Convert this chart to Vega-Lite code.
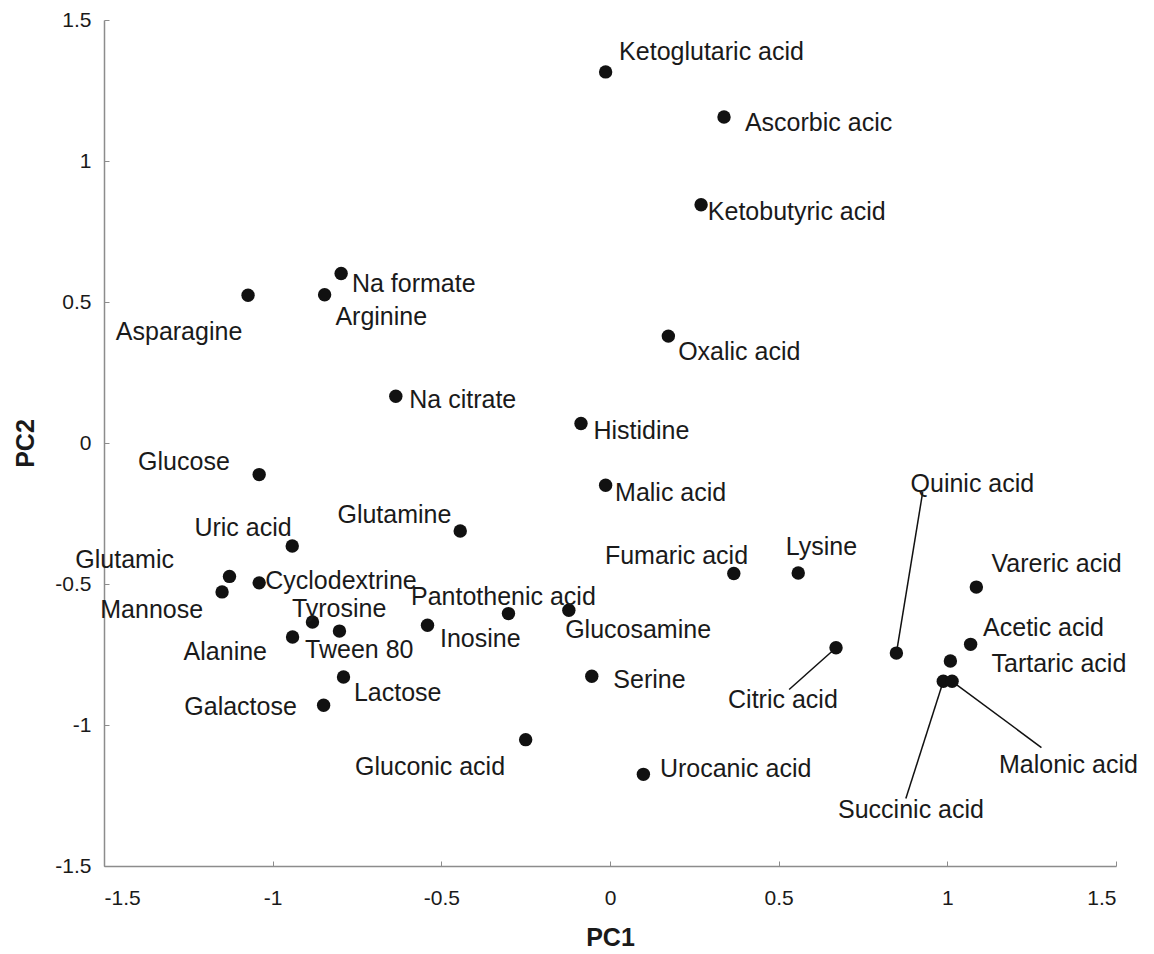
{
  "$schema": "https://vega.github.io/schema/vega-lite/v6.json",
  "width": 1012,
  "height": 846,
  "autosize": {"type": "none"},
  "padding": {"left": 104, "top": 20, "right": 38, "bottom": 88},
  "background": "white",
  "config": {
    "view": {"stroke": null},
    "font": "Liberation Sans",
    "axis": {
      "grid": false,
      "domainColor": "#8c8c8c",
      "domainWidth": 1.5,
      "tickColor": "#8c8c8c",
      "tickSize": -5,
      "labelFont": "Liberation Sans",
      "labelFontSize": 21,
      "labelColor": "#1a1a1a",
      "titleFont": "Liberation Sans",
      "titleFontSize": 25,
      "titleFontWeight": "bold",
      "titleColor": "#1a1a1a"
    }
  },
  "datasets": {
    "pts": [
      {"name": "Ketoglutaric acid", "pc1": -0.013, "pc2": 1.316, "lx": 0.027, "ly": 1.385},
      {"name": "Ascorbic acic", "pc1": 0.338, "pc2": 1.156, "lx": 0.400, "ly": 1.134},
      {"name": "Ketobutyric acid", "pc1": 0.270, "pc2": 0.845, "lx": 0.290, "ly": 0.818},
      {"name": "Na formate", "pc1": -0.797, "pc2": 0.601, "lx": -0.765, "ly": 0.565},
      {"name": "Arginine", "pc1": -0.846, "pc2": 0.526, "lx": -0.814, "ly": 0.447},
      {"name": "Asparagine", "pc1": -1.073, "pc2": 0.524, "lx": -1.465, "ly": 0.394},
      {"name": "Oxalic acid", "pc1": 0.173, "pc2": 0.379, "lx": 0.202, "ly": 0.323},
      {"name": "Na citrate", "pc1": -0.635, "pc2": 0.166, "lx": -0.595, "ly": 0.151},
      {"name": "Histidine", "pc1": -0.086, "pc2": 0.069, "lx": -0.049, "ly": 0.043},
      {"name": "Glucose", "pc1": -1.040, "pc2": -0.112, "lx": -1.399, "ly": -0.067},
      {"name": "Malic acid", "pc1": -0.013, "pc2": -0.150, "lx": 0.015, "ly": -0.179},
      {"name": "Uric acid", "pc1": -0.942, "pc2": -0.365, "lx": -1.232, "ly": -0.300},
      {"name": "Glutamine", "pc1": -0.444, "pc2": -0.312, "lx": -0.808, "ly": -0.254},
      {"name": "Glutamic", "pc1": -1.128, "pc2": -0.473, "lx": -1.585, "ly": -0.416},
      {"name": "Mannose", "pc1": -1.150, "pc2": -0.528, "lx": -1.511, "ly": -0.591},
      {"name": "Cyclodextrine", "pc1": -1.040, "pc2": -0.496, "lx": -1.022, "ly": -0.490},
      {"name": "Tyrosine", "pc1": -0.882, "pc2": -0.635, "lx": -0.943, "ly": -0.587},
      {"name": "Tween 80", "pc1": -0.802, "pc2": -0.667, "lx": -0.904, "ly": -0.735},
      {"name": "Alanine", "pc1": -0.941, "pc2": -0.688, "lx": -1.264, "ly": -0.741},
      {"name": "Inosine", "pc1": -0.541, "pc2": -0.646, "lx": -0.504, "ly": -0.694},
      {"name": "Pantothenic acid", "pc1": -0.301, "pc2": -0.605, "lx": -0.590, "ly": -0.546},
      {"name": "Glucosamine", "pc1": -0.122, "pc2": -0.593, "lx": -0.133, "ly": -0.662},
      {"name": "Fumaric acid", "pc1": 0.367, "pc2": -0.463, "lx": -0.015, "ly": -0.402},
      {"name": "Lysine", "pc1": 0.558, "pc2": -0.461, "lx": 0.521, "ly": -0.369},
      {"name": "Lactose", "pc1": -0.790, "pc2": -0.830, "lx": -0.759, "ly": -0.887},
      {"name": "Galactose", "pc1": -0.849, "pc2": -0.930, "lx": -1.262, "ly": -0.936},
      {"name": "Serine", "pc1": -0.054, "pc2": -0.827, "lx": 0.010, "ly": -0.839},
      {"name": "Gluconic acid", "pc1": -0.250, "pc2": -1.052, "lx": -0.756, "ly": -1.149},
      {"name": "Urocanic acid", "pc1": 0.099, "pc2": -1.175, "lx": 0.148, "ly": -1.155},
      {"name": "Citric acid", "pc1": 0.670, "pc2": -0.726, "lx": 0.350, "ly": -0.910},
      {"name": "Quinic acid", "pc1": 0.849, "pc2": -0.745, "lx": 0.891, "ly": -0.146},
      {"name": "Vareric acid", "pc1": 1.086, "pc2": -0.511, "lx": 1.131, "ly": -0.430},
      {"name": "Acetic acid", "pc1": 1.069, "pc2": -0.714, "lx": 1.106, "ly": -0.656},
      {"name": "Tartaric acid", "pc1": 1.009, "pc2": -0.773, "lx": 1.131, "ly": -0.785},
      {"name": "Succinic acid", "pc1": 0.988, "pc2": -0.845, "lx": 0.676, "ly": -1.302},
      {"name": "Malonic acid", "pc1": 1.014, "pc2": -0.845, "lx": 1.153, "ly": -1.143}
    ],
    "leaders": [
      {"name": "Quinic acid", "x1": 0.849, "y1": -0.745, "x2": 0.927, "y2": -0.174},
      {"name": "Citric acid", "x1": 0.670, "y1": -0.726, "x2": 0.531, "y2": -0.874},
      {"name": "Succinic acid", "x1": 0.988, "y1": -0.845, "x2": 0.877, "y2": -1.261},
      {"name": "Malonic acid", "x1": 1.014, "y1": -0.845, "x2": 1.279, "y2": -1.080}
    ]
  },
  "layer": [
    {
      "data": {"name": "leaders"},
      "mark": {"type": "rule", "color": "#111111", "strokeWidth": 1.5},
      "encoding": {
        "x": {"field": "x1", "type": "quantitative", "scale": {"domain": [-1.5, 1.5], "nice": false, "zero": false}},
        "y": {"field": "y1", "type": "quantitative", "scale": {"domain": [-1.5, 1.5], "nice": false, "zero": false}},
        "x2": {"field": "x2"},
        "y2": {"field": "y2"}
      }
    },
    {
      "data": {"name": "pts"},
      "mark": {"type": "circle", "size": 180, "color": "#111111", "opacity": 1},
      "encoding": {
        "x": {"field": "pc1", "type": "quantitative", "title": "PC1",
              "scale": {"domain": [-1.5, 1.5], "nice": false, "zero": false},
              "axis": {"values": [-1.5, -1, -0.5, 0, 0.5, 1, 1.5], "labelExpr": "'' + datum.value", "labelPadding": 26, "titlePadding": 17}},
        "y": {"field": "pc2", "type": "quantitative", "title": "PC2",
              "scale": {"domain": [-1.5, 1.5], "nice": false, "zero": false},
              "axis": {"values": [-1.5, -1, -0.5, 0, 0.5, 1, 1.5], "labelExpr": "'' + datum.value", "labelPadding": 18, "titlePadding": 16}}
      }
    },
    {
      "data": {"name": "pts"},
      "mark": {"type": "text", "align": "left", "baseline": "middle", "fontSize": 25, "font": "Liberation Sans", "color": "#1a1a1a"},
      "encoding": {
        "x": {"field": "lx", "type": "quantitative"},
        "y": {"field": "ly", "type": "quantitative"},
        "text": {"field": "name"}
      }
    }
  ]
}
